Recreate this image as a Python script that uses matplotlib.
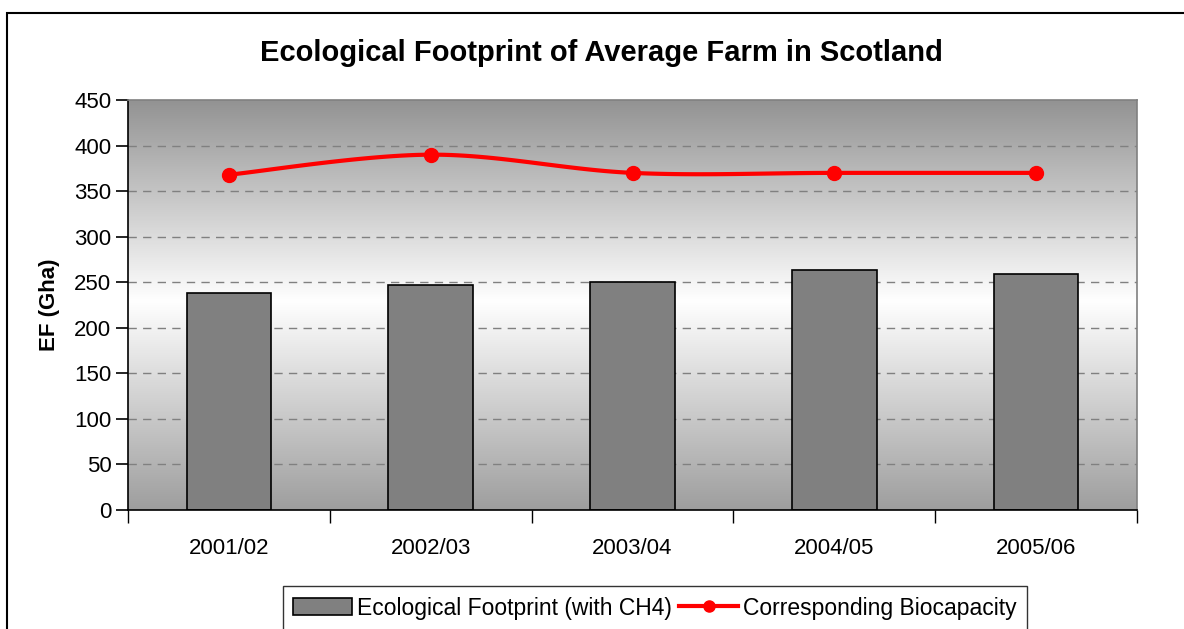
import matplotlib.pyplot as plt
import numpy as np
from matplotlib.patches import Rectangle
from matplotlib.colors import LinearSegmentedColormap

plt.rcParams['font.family'] = 'sans-serif'
plt.rcParams['font.sans-serif'] = ['Liberation Sans', 'DejaVu Sans']

# Dados
anos = ['2001/02', '2002/03', '2003/04', '2004/05', '2005/06']
pegada = [238, 247, 250, 263, 259]
biocapacidade = [368, 390, 370, 370, 370]


def catmull_rom(xs, ys, n=30):
    # curva suavizada no estilo do Excel (apenas para desenhar a linha)
    xs = np.asarray(xs, float)
    ys = np.asarray(ys, float)
    px = np.concatenate([[xs[0]], xs, [xs[-1]]])
    py = np.concatenate([[ys[0]], ys, [ys[-1]]])
    out_x, out_y = [], []
    t = np.linspace(0, 1, n)
    for i in range(1, len(px) - 2):
        p0, p1, p2, p3 = [np.array([px[j], py[j]]) for j in (i - 1, i, i + 1, i + 2)]
        c1 = p1 + (p2 - p0) / 6.0
        c2 = p2 - (p3 - p1) / 6.0
        b = ((1 - t) ** 3)[:, None] * p1 + (3 * (1 - t) ** 2 * t)[:, None] * c1 \
            + (3 * (1 - t) * t ** 2)[:, None] * c2 + (t ** 3)[:, None] * p2
        out_x.extend(b[:, 0])
        out_y.extend(b[:, 1])
    return np.array(out_x), np.array(out_y)


fig = plt.figure(figsize=(11.84, 6.29), dpi=100)
ax = fig.add_axes([128 / 1184, 1 - 510 / 629, 1009 / 1184, 410 / 629])

# moldura externa (só topo e esquerda aparecem no recorte)
fig.patches.append(Rectangle((7 / 1184, -0.1), 1.2, 1 - 13 / 629 + 0.1, transform=fig.transFigure,
                             fill=False, edgecolor='black', linewidth=1.5, zorder=0))

# fundo em degradê cinza -> branco -> cinza (de baixo para cima)
cmap = LinearSegmentedColormap.from_list('bg', [(0, '#9e9e9e'), (0.51, '#ffffff'), (1, '#939393')])
grad = np.linspace(0, 1, 256).reshape(-1, 1)
ax.imshow(grad, aspect='auto', cmap=cmap, origin='lower', extent=[-0.5, 4.5, 0, 450], zorder=0)

x = np.arange(len(anos))
ax.set_xlim(-0.5, 4.5)
ax.set_ylim(0, 450)

for y in range(50, 450, 50):
    ax.axhline(y, color='#808080', linewidth=1.0, linestyle=(0, (6, 4.5)), zorder=1)

barras = ax.bar(x, pegada, width=0.42, color='#808080', edgecolor='black', linewidth=1.2, zorder=2,
                label='Ecological Footprint (with CH4)')

sx, sy = catmull_rom(x, biocapacidade)
ax.plot(sx, sy, color='#ff0000', linewidth=3, zorder=3)
ax.plot(x, biocapacidade, 'o', color='#ff0000', markersize=10, zorder=4)
linha, = ax.plot([], [], color='#ff0000', linewidth=3, marker='o', markersize=10,
                 label='Corresponding Biocapacity')

ax.spines['top'].set_color('#808080')
ax.spines['right'].set_color('#808080')
ax.spines['left'].set_color('black')
ax.spines['bottom'].set_color('black')
for s in ax.spines.values():
    s.set_linewidth(1.2)

ax.set_yticks(range(0, 451, 50))
ax.tick_params(axis='y', labelsize=16, length=9, width=1.2, direction='out', pad=3)
ax.set_xticks(np.arange(-0.5, 4.6, 1))
ax.set_xticklabels([])
ax.set_xticks(x, minor=True)
ax.set_xticklabels(anos, minor=True)
ax.tick_params(axis='x', which='major', length=9, width=1, direction='out')
ax.tick_params(axis='x', which='minor', length=0, labelsize=16, pad=20)

ax.set_ylabel('EF (Gha)', fontsize=16, fontweight='bold', labelpad=10)
fig.text(0.508, 1 - 53 / 629, 'Ecological Footprint of Average Farm in Scotland',
         ha='center', va='center', fontsize=21, fontweight='bold')

leg = ax.legend(handles=[barras, linha], loc='center', bbox_to_anchor=(0.553, 1 - 608 / 629),
                bbox_transform=fig.transFigure,
                ncol=2, fontsize=16.5, frameon=True, fancybox=False, edgecolor='black',
                handlelength=2.6, handletextpad=0.2, columnspacing=0.3, borderpad=0.45,
                markerscale=0.8)
leg.get_frame().set_linewidth(1.0)

fig.savefig('out.png', dpi=100)
